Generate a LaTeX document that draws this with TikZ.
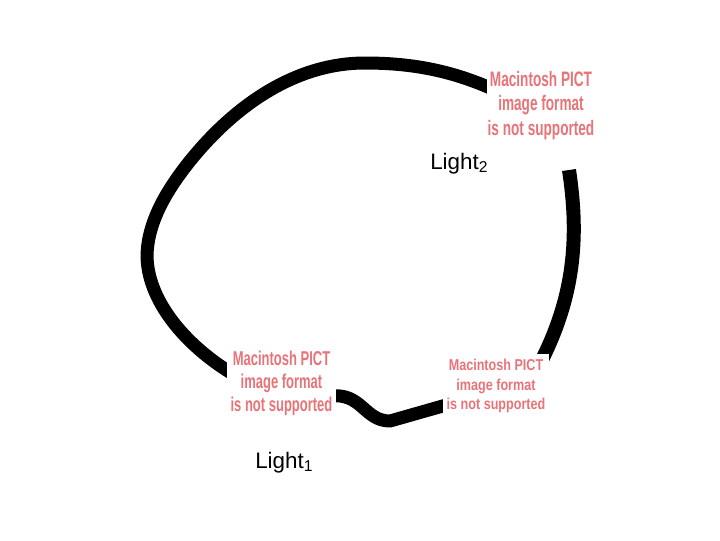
\documentclass[tikz,border=0pt]{standalone}
\usepackage{fontspec}
\setmainfont{Liberation Sans}
\newfontfamily\pictfont[FakeStretch=0.8]{Liberation Sans}
\newfontfamily\pictnarrow[FakeStretch=0.65]{Liberation Sans}
\usetikzlibrary{calc}
\definecolor{pictred}{RGB}{232,116,120}
\pgfdeclarelayer{back}
\pgfsetlayers{back,main}

\begin{document}
\begin{tikzpicture}[
  x=0.75pt, y=-0.75pt,
  pict/.style={fill=white, inner sep=0pt, align=center, text=pictred, minimum height=54pt},
  light/.style={inner sep=0pt, anchor=base west, font=\fontsize{16.8}{20}\selectfont},
  wire/.style={draw=black, line width=9.75pt, line cap=butt, line join=round},
  into/.style={shorten >=-5pt},
  outof/.style={shorten <=-5pt}
]
  \useasboundingbox (0,0) rectangle (720,540);

  % the three pictures
  \node[pict, minimum width=81pt, font={\pictnarrow\bfseries\fontsize{15.7}{18.2}\selectfont}]
    (pict1) at (541,105.4) {Macintosh PICT\\image format\\is not supported};
  \node[pict, minimum width=81.75pt, font={\pictnarrow\bfseries\fontsize{15}{17.6}\selectfont}]
    (pict2) at (281.5,383.3) {Macintosh PICT\\image format\\is not supported};
  \node[pict, minimum width=79.5pt, minimum height=48pt, font={\pictfont\bfseries\fontsize{11.8}{14.6}\selectfont}]
    (pict3) at (496,386) {Macintosh PICT\\image format\\is not supported};

  % labels
  \node[light] (light2) at (430,169) {Light\textsubscript{2}};
  \node[light] (light1) at (255,468) {Light\textsubscript{1}};

  % the loop, behind the pictures
  \begin{pgfonlayer}{back}
    \draw[wire, outof, into] ($(pict1.west)+(0,-19)$)
      .. controls (450,70) and (410,63) .. (365,63)
      .. controls (290,63) and (228,112) .. (186,166)
      .. controls (166,192) and (148,222) .. (147,255)
      .. controls (147,300) and (185,345) .. ($(pict2.west)+(0,-13)$);
    \draw[wire, outof, into] ($(pict2.east)+(0,12)$)
      .. controls (362,392) and (364,421) .. (390,421)
      -- ($(pict3.west)+(0,20)$);
    \draw[wire, line width=10.5pt, into] ($(pict1.center)+(28,64.6)$)
      .. controls (578,230) and (577,290) .. ($(pict3.north)+(49,0)$);
  \end{pgfonlayer}
\end{tikzpicture}
\end{document}
